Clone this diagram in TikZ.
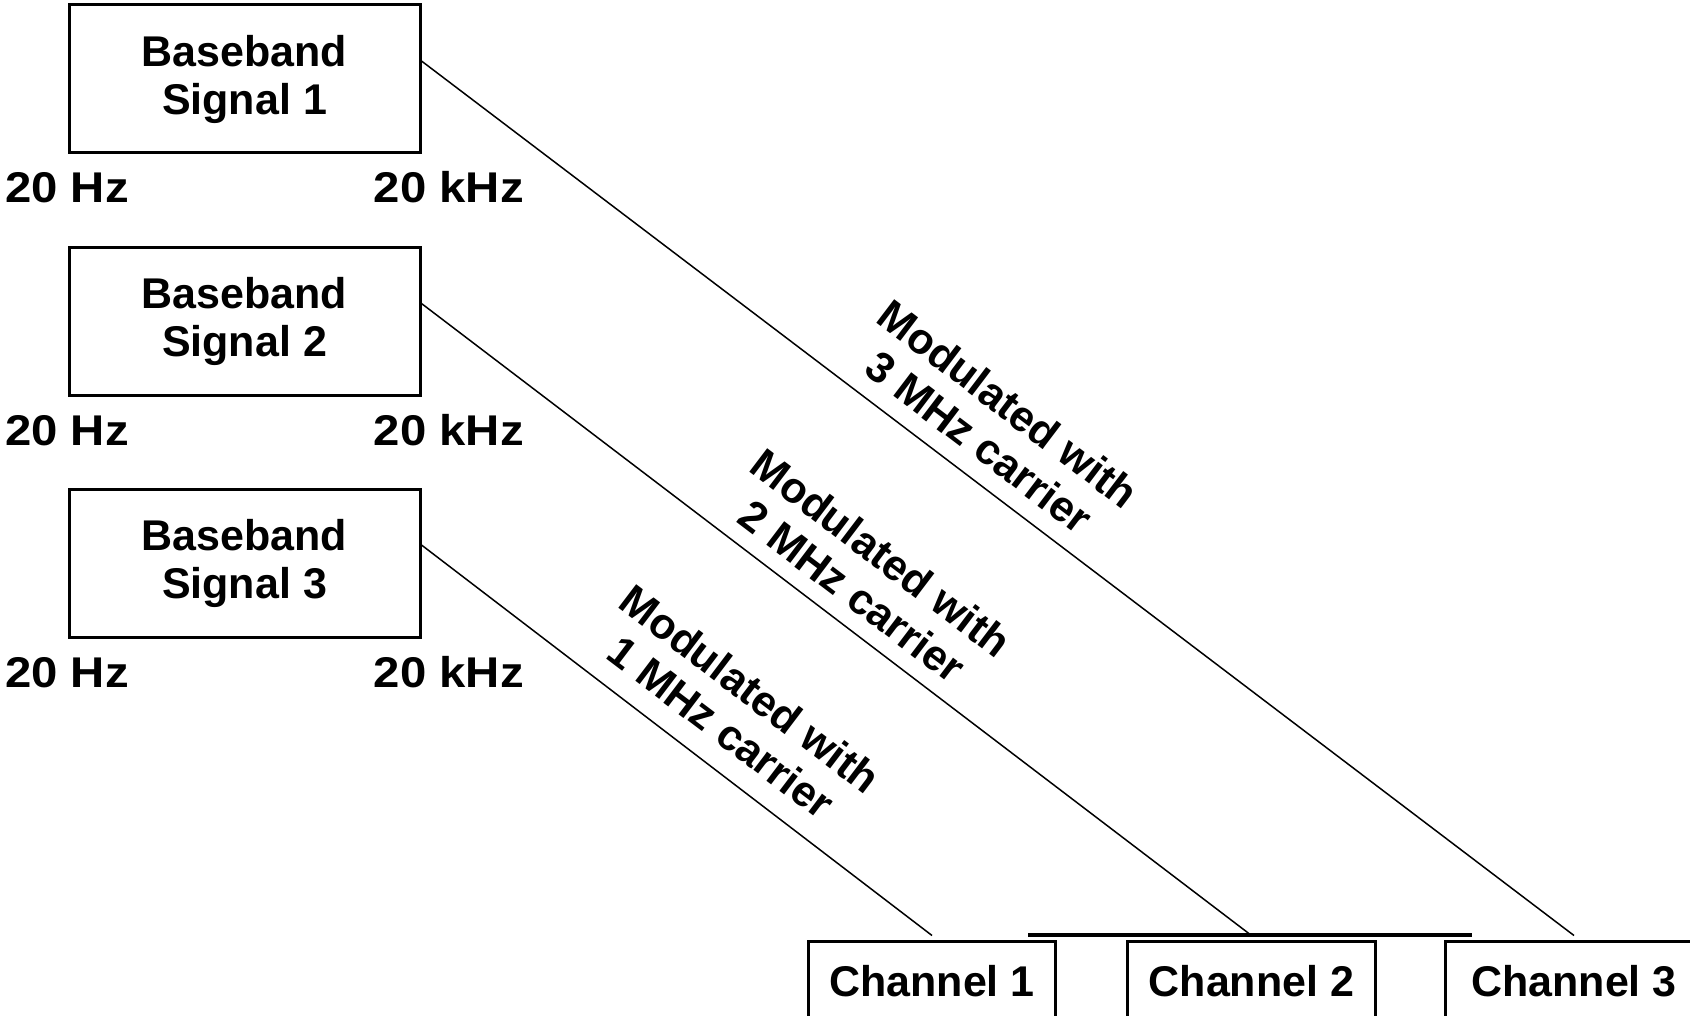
\documentclass[tikz,border=0pt]{standalone}
\usepackage{fontspec}
\setmainfont{Liberation Sans}
\usetikzlibrary{calc}
\begin{document}
\begin{tikzpicture}[x=1pt,y=-1pt,
  every node/.style={font=\bfseries\fontsize{43}{48}\selectfont, inner sep=0pt},
  bbox/.style={draw, line width=3pt, minimum width=351pt, minimum height=148pt, align=center},
  chbox/.style={draw, line width=3pt, minimum height=80pt},
  freq/.style={xscale=1.1},
  lbl/.style={align=center, rotate=-37.2},
  conn/.style={line width=1.5pt}]
\useasboundingbox (0,0) rectangle (1690,1016);
\clip (0,0) rectangle (1690,1016);
\fill[white] (0,0) rectangle (1690,1016);
% baseband boxes
\node[bbox] (b1) at (244.5,79) {Baseband\\Signal 1};
\node[bbox] (b2) at (244.5,321.5) {Baseband\\Signal 2};
\node[bbox] (b3) at (244.5,563) {Baseband\\Signal 3};
% frequency limits
\node[freq, anchor=base west] (f1l) at (5,203) {20 Hz};
\node[freq, anchor=base east] (f1h) at (524,203) {20 kHz};
\node[freq, anchor=base west] (f2l) at (5,445) {20 Hz};
\node[freq, anchor=base east] (f2h) at (524,445) {20 kHz};
\node[freq, anchor=base west] (f3l) at (5,687) {20 Hz};
\node[freq, anchor=base east] (f3h) at (524,687) {20 kHz};
% channels
\node[chbox, minimum width=247pt] (ch1) at (932,981) {Channel 1};
\node[chbox, minimum width=248pt] (ch2) at (1251.5,981) {Channel 2};
\node[chbox, minimum width=257pt] (ch3) at (1574,981) {Channel 3};
\coordinate (r1) at (1028,935);
\coordinate (r2) at (1472,935);
\draw[line width=3.5pt] (r1) -- (r2);
% connectors
\draw[conn] ([yshift=18pt]b1.east) -- ([yshift=4pt]ch3.north);
\draw[conn] ([yshift=18pt]b2.east) -- ([yshift=4pt]ch2.north);
\draw[conn] ([yshift=18pt]b3.east) -- ([yshift=4pt]ch1.north);
% labels
\node[lbl] (m3) at (994,423) {Modulated with\\3 MHz carrier};
\node[lbl] (m2) at (867,572) {Modulated with\\2 MHz carrier};
\node[lbl] (m1) at (736,708) {Modulated with\\1 MHz carrier};
\end{tikzpicture}
\end{document}
